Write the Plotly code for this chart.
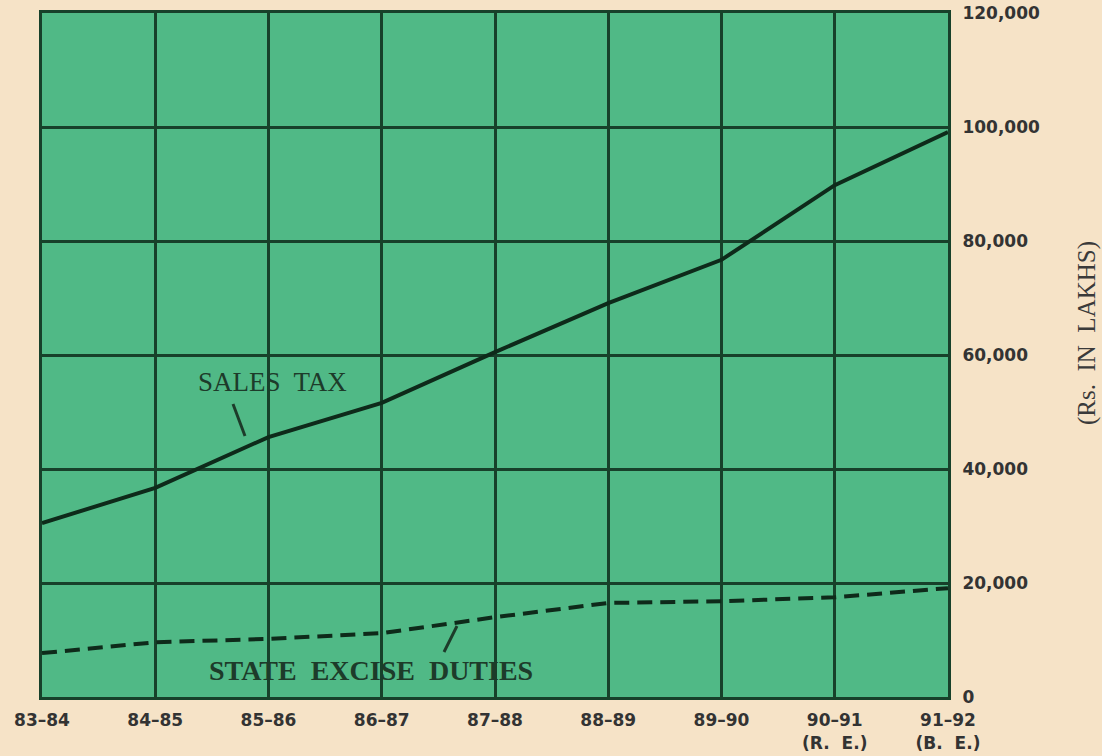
import plotly.graph_objects as go

years = ["83–84", "84–85", "85–86", "86–87", "87–88", "88–89", "89–90",
         "90–91<br>(R.  E.)", "91–92<br>(B.  E.)"]
sales_tax = [30500, 36700, 45600, 51600, 60500, 69100, 76700, 89800, 99100]
state_excise = [7700, 9600, 10200, 11200, 14000, 16500, 16800, 17500, 19100]
y_ticks = [0, 20000, 40000, 60000, 80000, 100000, 120000]
y_labels = ["0", "20,000", "40,000", "60,000", "80,000", "100,000", "120,000"]

grid_col = "#17402a"
line_col = "#0e2a1a"
paper_col = "#f6e3c7"
tick_font = dict(family="DejaVu Sans", size=17, color="#333333", weight="bold")

PL, PT, PW, PH = 42, 13, 906, 684   # plot area in screen pixels
W, H = 1102, 756

fig = go.Figure()
fig.add_trace(go.Scatter(x=years, y=sales_tax, mode="lines",
                         line=dict(color=line_col, width=4), showlegend=False))
fig.add_trace(go.Scatter(x=years, y=state_excise, mode="lines",
                         line=dict(color=line_col, width=4, dash="15px,8px"), showlegend=False))

fig.update_layout(
    width=W, height=H,
    margin=dict(l=PL, r=W - PL - PW, t=PT, b=H - PT - PH),
    paper_bgcolor=paper_col,
    plot_bgcolor="#50b986",
    hovermode=False,
    xaxis=dict(type="category", range=[0, 8], showgrid=True, gridcolor=grid_col, gridwidth=2.5,
               showline=True, linecolor=grid_col, linewidth=3, mirror=True, zeroline=False,
               automargin=False, ticks="", ticklabelstandoff=6, tickfont=tick_font),
    yaxis=dict(side="right", range=[0, 120000], tickvals=y_ticks, ticktext=y_labels,
               showgrid=True, gridcolor=grid_col, gridwidth=2.5,
               showline=True, linecolor=grid_col, linewidth=3, mirror=True, zeroline=False,
               automargin=False, ticks="", ticklabelstandoff=8,
               tickfont=tick_font),
)

def px(xp, yp):
    return (xp - PL) / PW, (PT + PH - yp) / PH

ax, ay = px(1087, 333)
fig.add_annotation(xref="paper", yref="paper", x=ax, y=ay, xanchor="center", yanchor="middle",
                   text="(Rs.  IN  LAKHS)", textangle=-90, showarrow=False,
                   font=dict(family="Liberation Serif", size=25, color="#3a3a3a"))

ax, ay = px(272, 382)
fig.add_annotation(xref="paper", yref="paper", x=ax, y=ay, xanchor="center", yanchor="middle",
                   text="SALES  TAX", showarrow=False,
                   font=dict(family="Liberation Serif", size=27, color="#1d3b2a"))
ax, ay = px(371, 670)
fig.add_annotation(xref="paper", yref="paper", x=ax, y=ay, xanchor="center", yanchor="middle",
                   text="STATE  EXCISE  DUTIES", showarrow=False,
                   font=dict(family="Liberation Serif", size=28, color="#1d3b2a", weight="bold"))

x0, y0 = px(233, 404)
x1, y1 = px(245, 436)
fig.add_shape(type="line", xref="paper", yref="paper", x0=x0, y0=y0, x1=x1, y1=y1,
              line=dict(color="#1d3b2a", width=3))
x0, y0 = px(444, 652)
x1, y1 = px(457, 626)
fig.add_shape(type="line", xref="paper", yref="paper", x0=x0, y0=y0, x1=x1, y1=y1,
              line=dict(color="#1d3b2a", width=3))

fig.write_html("out.html", config={"displayModeBar": False},
               post_script="document.body.style.margin='0';document.body.style.background='%s';" % paper_col)
